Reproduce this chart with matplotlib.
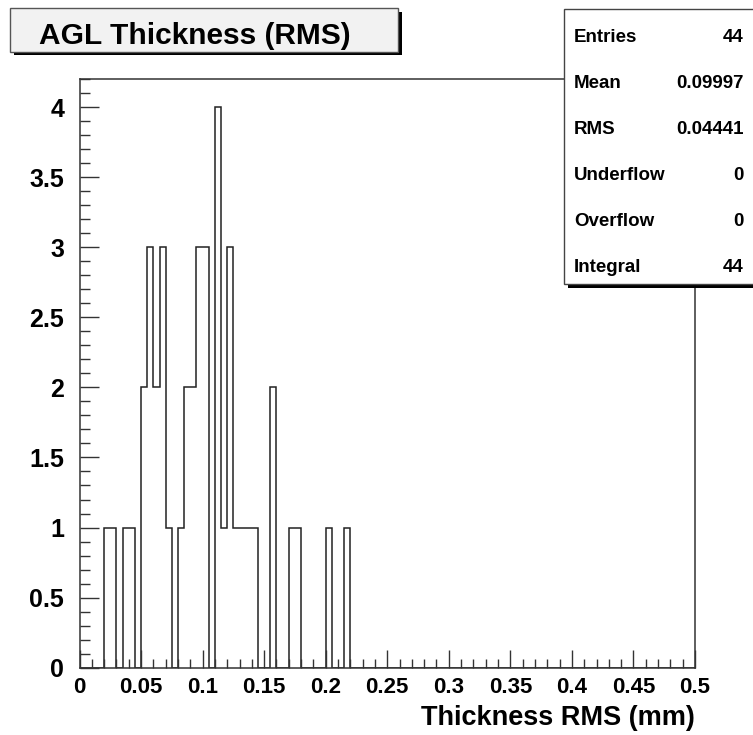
import numpy as np
import matplotlib
matplotlib.use("Agg")
import matplotlib.pyplot as plt
from matplotlib.patches import Rectangle
from matplotlib.ticker import MultipleLocator

plt.rcParams["font.family"] = ["Liberation Sans", "DejaVu Sans"]
plt.rcParams["font.weight"] = "bold"

# histogram: 100 bins of width 0.005 between 0 and 0.5
x_min, x_max = 0.0, 0.5
n_bins = 100
counts = [
    0, 0, 0, 0, 1, 1, 0, 1, 1, 0, 2, 3, 2, 3, 1, 0, 1, 2, 2, 3,
    3, 0, 4, 1, 3, 1, 1, 1, 1, 0, 0, 2, 0, 0, 1, 1, 0, 0, 0, 0,
    1, 0, 0, 1, 0, 0, 0, 0, 0, 0, 0, 0, 0, 0, 0, 0, 0, 0, 0, 0,
    0, 0, 0, 0, 0, 0, 0, 0, 0, 0, 0, 0, 0, 0, 0, 0, 0, 0, 0, 0,
    0, 0, 0, 0, 0, 0, 0, 0, 0, 0, 0, 0, 0, 0, 0, 0, 0, 0, 0, 0,
]
title = "AGL Thickness (RMS)"
x_title = "Thickness RMS (mm)"
stat_names = ["Entries", "Mean", "RMS", "Underflow", "Overflow", "Integral"]
stat_values = ["44", "0.09997", "0.04441", "0", "0", "44"]

W, H = 753, 735
fig = plt.figure(figsize=(W / 100, H / 100), dpi=100)
fig.patch.set_facecolor("white")


def fx(px):
    return px / W


def fy(py):
    return 1 - py / H


# frame in pixels: left 79.5, right 695, top 79, bottom 667.7
ax = fig.add_axes([fx(79.5), fy(667.7), fx(695) - fx(79.5), fy(79) - fy(667.7)])

edges = np.linspace(x_min, x_max, n_bins + 1)
ax.stairs(counts, edges, color="#222222", lw=1.1, baseline=0)

ax.set_xlim(x_min, x_max)
ax.set_ylim(0, 1.05 * max(counts))

for s in ax.spines.values():
    s.set_linewidth(1.1)
    s.set_color("#333333")

ax.xaxis.set_major_locator(MultipleLocator(0.05))
ax.xaxis.set_minor_locator(MultipleLocator(0.01))
ax.yaxis.set_major_locator(MultipleLocator(0.5))
ax.yaxis.set_minor_locator(MultipleLocator(0.1))
ax.xaxis.set_major_formatter(lambda v, p: "0" if abs(v) < 1e-9 else f"{v:g}")
ax.yaxis.set_major_formatter(lambda v, p: "0" if abs(v) < 1e-9 else f"{v:g}")

ax.tick_params(axis="x", which="major", direction="in", length=13, width=1,
               color="#333333", labelsize=16, pad=7)
ax.tick_params(axis="x", which="minor", direction="in", length=6.3, width=1,
               color="#333333")
ax.tick_params(axis="y", which="major", direction="in", length=13.7, width=1,
               color="#333333", labelsize=18, pad=11)
ax.tick_params(axis="y", which="minor", direction="in", length=7.2, width=1,
               color="#333333")
for lab in ax.get_xticklabels() + ax.get_yticklabels():
    lab.set_fontweight("bold")

fig.text(fx(695), fy(718), x_title, ha="right", va="center",
         fontsize=19.5, fontweight="bold")

# title box with drop shadow
fig.patches.append(Rectangle((fx(13.5), fy(55.2)), fx(398) - fx(10), fy(8.3) - fy(51.7),
                             transform=fig.transFigure, facecolor="black",
                             edgecolor="none", zorder=3))
fig.patches.append(Rectangle((fx(10), fy(51.7)), fx(398) - fx(10), fy(8.3) - fy(51.7),
                             transform=fig.transFigure, facecolor="#f2f2f2",
                             edgecolor="#555555", lw=1, zorder=4))
fig.text(fx(39), fy(36), title, ha="left", va="center",
         fontsize=21.5, fontweight="bold", zorder=5)

# statistics box with drop shadow, running off the right edge
fig.patches.append(Rectangle((fx(567.5), fy(287.6)), fx(770) - fx(564), fy(9) - fy(284.3),
                             transform=fig.transFigure, facecolor="black",
                             edgecolor="none", zorder=3))
fig.patches.append(Rectangle((fx(564), fy(284.3)), fx(770) - fx(564), fy(9) - fy(284.3),
                             transform=fig.transFigure, facecolor="white",
                             edgecolor="#444444", lw=1, zorder=4))
for i, (name, val) in enumerate(zip(stat_names, stat_values)):
    y = 37 + i * 46.05
    fig.text(fx(574), fy(y), name, ha="left", va="center",
             fontsize=13.5, fontweight="bold", zorder=5)
    fig.text(fx(743.5), fy(y), val, ha="right", va="center",
             fontsize=13.5, fontweight="bold", zorder=5)

fig.savefig("out.png", dpi=100)
